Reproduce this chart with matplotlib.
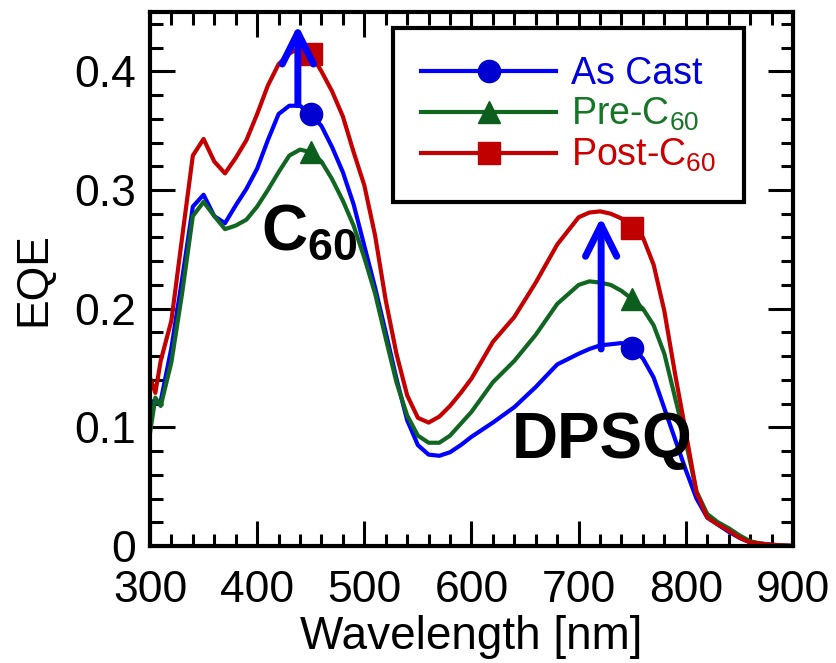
import matplotlib
matplotlib.use("Agg")
import matplotlib.pyplot as plt
from matplotlib.lines import Line2D
from matplotlib.ticker import MultipleLocator, FuncFormatter

plt.rcParams['font.family'] = ['Liberation Sans', 'DejaVu Sans']
plt.rcParams['mathtext.fontset'] = 'custom'
plt.rcParams['mathtext.rm'] = 'Liberation Sans'
plt.rcParams['mathtext.bf'] = 'Liberation Sans:bold'

# wavelength grid [nm]
wavelength = [300, 305, 310, 320, 330, 340, 350, 360, 370, 380, 390, 400, 410, 420,
              430, 440, 450, 460, 470, 480, 490, 500, 510, 520, 530, 540, 550, 560,
              570, 580, 590, 600, 620, 640, 660, 680, 700, 710, 720, 730, 740, 750,
              760, 770, 780, 790, 800, 810, 820, 830, 840, 850, 860, 870, 880, 900]

eqe_as_cast = [0.123, 0.120, 0.122, 0.167, 0.225, 0.286, 0.296, 0.278, 0.272, 0.287,
               0.301, 0.318, 0.342, 0.364, 0.371, 0.371, 0.364, 0.354, 0.336, 0.315,
               0.288, 0.253, 0.218, 0.180, 0.141, 0.106, 0.085, 0.077, 0.076, 0.079,
               0.085, 0.092, 0.104, 0.117, 0.134, 0.153, 0.162, 0.166, 0.169, 0.170,
               0.171, 0.167, 0.158, 0.142, 0.116, 0.090, 0.064, 0.040, 0.024, 0.018,
               0.012, 0.007, 0.003, 0.002, 0.001, 0.0]

eqe_pre = [0.095, 0.125, 0.118, 0.155, 0.213, 0.278, 0.290, 0.278, 0.267, 0.270,
           0.275, 0.286, 0.300, 0.315, 0.329, 0.334, 0.332, 0.324, 0.309, 0.291,
           0.270, 0.243, 0.213, 0.175, 0.138, 0.110, 0.093, 0.087, 0.087, 0.093,
           0.103, 0.113, 0.138, 0.156, 0.178, 0.204, 0.220, 0.223, 0.222, 0.220,
           0.215, 0.208, 0.200, 0.186, 0.162, 0.125, 0.088, 0.046, 0.027, 0.020,
           0.015, 0.009, 0.004, 0.002, 0.001, 0.0]

eqe_post = [0.142, 0.129, 0.156, 0.190, 0.260, 0.329, 0.343, 0.324, 0.314, 0.327,
            0.342, 0.364, 0.388, 0.406, 0.415, 0.420, 0.415, 0.400, 0.383, 0.362,
            0.332, 0.304, 0.262, 0.207, 0.162, 0.127, 0.108, 0.104, 0.109, 0.118,
            0.129, 0.141, 0.172, 0.193, 0.222, 0.254, 0.277, 0.281, 0.282, 0.280,
            0.276, 0.268, 0.260, 0.237, 0.198, 0.145, 0.096, 0.045, 0.024, 0.018,
            0.013, 0.007, 0.003, 0.002, 0.001, 0.0]

labels = ['As Cast', r'Pre-C$_{\mathregular{60}}$', r'Post-C$_{\mathregular{60}}$']
line_colors = ['#0000ff', '#116622', '#c40000']
marker_colors = ['#0000d0', '#0b5e1b', '#c00000']
text_colors = ['#0000dd', '#177528', '#cc0000']
markers = ['o', '^', 's']
marker_at = [450, 750]

fig = plt.figure(figsize=(8.36, 6.63), dpi=100)
ax = fig.add_axes([0.1794, 0.1765, 0.7691, 0.8054])

idx = [wavelength.index(w) for w in marker_at]
for y, lc, mc, mk in zip([eqe_as_cast, eqe_pre, eqe_post], line_colors, marker_colors, markers):
    ax.plot(wavelength, y, color=lc, lw=3, marker=mk, markevery=idx, ms=16,
            mfc=mc, mec=mc, solid_joinstyle='round')

# arrows (annotation)
arr = dict(arrowstyle='->,head_length=0.9,head_width=0.45', lw=5, color='#0000ff',
           mutation_scale=25, shrinkA=0, shrinkB=0, capstyle='round')
ax.annotate('', xy=(438, 0.439), xytext=(438, 0.372), arrowprops=arr, zorder=6)
ax.annotate('', xy=(721, 0.277), xytext=(721, 0.166), arrowprops=arr, zorder=6)

ax.text(404, 0.25, r'C$_{\mathregular{60}}$', fontsize=46, fontweight='bold', ha='left', va='baseline')
ax.text(638, 0.074, 'DPSQ', fontsize=46, fontweight='bold', ha='left', va='baseline', zorder=5)

ax.set_xlim(300, 900)
ax.set_ylim(0, 0.45)
ax.xaxis.set_major_locator(MultipleLocator(100))
ax.xaxis.set_minor_locator(MultipleLocator(20))
ax.yaxis.set_major_locator(MultipleLocator(0.1))
ax.yaxis.set_minor_locator(MultipleLocator(0.02))
ax.yaxis.set_major_formatter(FuncFormatter(lambda v, p: '%g' % round(v, 2)))
ax.tick_params(which='both', direction='in', top=True, right=True, width=2.2, labelsize=32)
ax.tick_params(which='major', length=18)
ax.tick_params(which='minor', length=9)
ax.tick_params(axis='y', pad=10)
ax.tick_params(axis='x', pad=17)
for s in ax.spines.values():
    s.set_linewidth(3)

ax.set_xlabel('Wavelength [nm]', fontsize=33, labelpad=3)
ax.set_ylabel('EQE', fontsize=32, labelpad=14)

handles = [Line2D([], [], color=lc, lw=3, marker=mk, ms=16, mfc=mc, mec=mc)
           for lc, mc, mk in zip(line_colors, marker_colors, markers)]
leg = ax.legend(handles, labels, loc='upper left', bbox_to_anchor=(0.378, 0.970),
                fontsize=27, frameon=True, fancybox=False, edgecolor='black', framealpha=1,
                handlelength=3.6, handletextpad=0.4, borderpad=0.75, labelspacing=0.1,
                borderaxespad=0)
leg.get_frame().set_linewidth(3)
for t, c in zip(leg.get_texts(), text_colors):
    t.set_color(c)

fig.savefig('out.png', dpi=100)
